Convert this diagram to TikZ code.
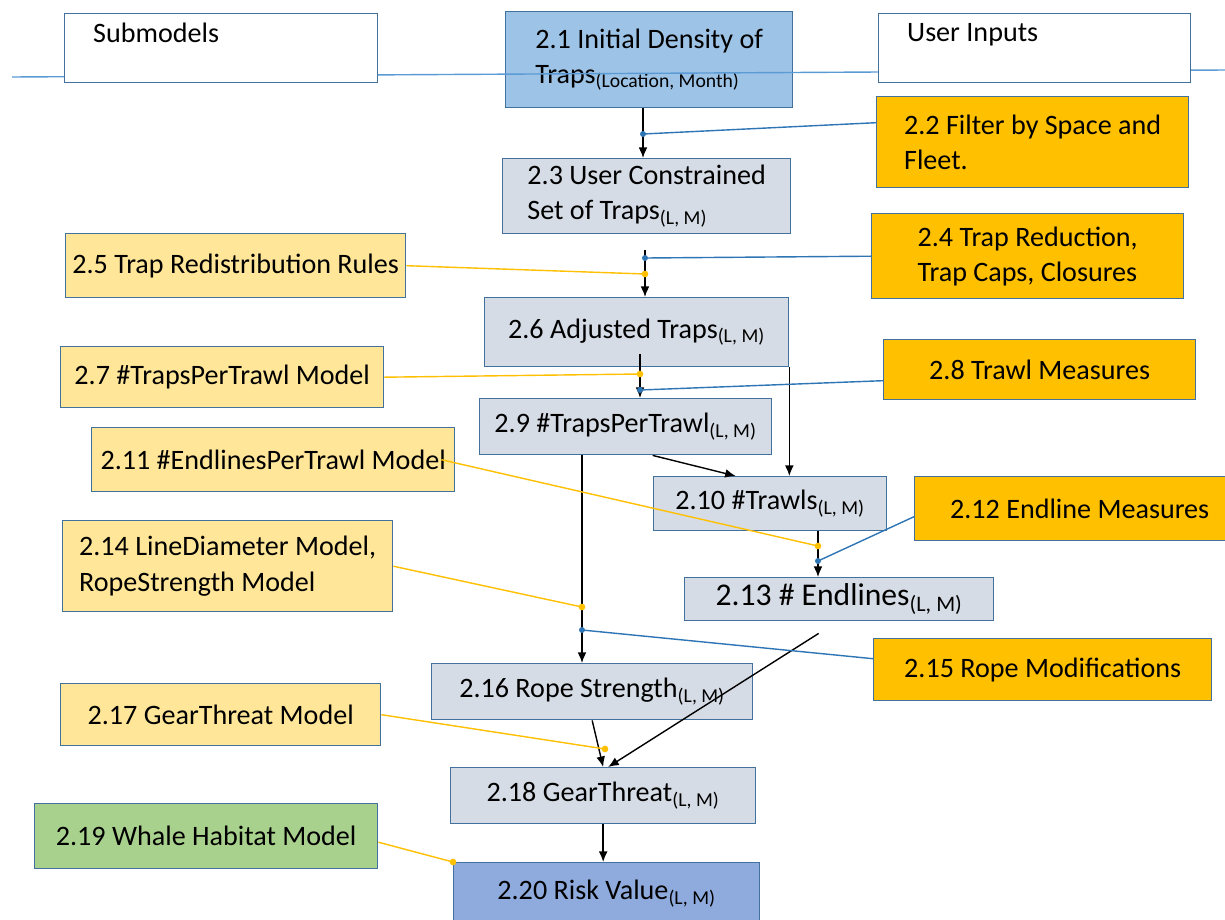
\documentclass[tikz,border=0pt]{standalone}
\usepackage{fontspec}
\setmainfont{Carlito}
\usepackage{xcolor}
\usetikzlibrary{arrows.meta}

\definecolor{edgeblue}{HTML}{41719C}
\definecolor{inputorange}{HTML}{FFC000}
\definecolor{modelyellow}{HTML}{FFE699}
\definecolor{stagegray}{HTML}{D6DCE5}
\definecolor{startblue}{HTML}{9DC3E6}
\definecolor{riskblue}{HTML}{8FAADC}
\definecolor{habitatgreen}{HTML}{A9D18E}
\definecolor{linkblue}{HTML}{2E75B6}
\definecolor{rowblue}{HTML}{5B9BD5}

\begin{document}
\begin{tikzpicture}[x=0.02cm, y=-0.02cm, >={Latex[length=6pt,width=5pt]},
        font=\fontsize{16}{20}\selectfont,
        box/.style={draw=edgeblue, line width=0.8pt, anchor=north west, inner sep=2pt, align=left},
        stage/.style={box, fill=stagegray},
        userinput/.style={box, fill=inputorange},
        submodel/.style={box, fill=modelyellow},
        heading/.style={box, fill=white},
        arr/.style={->, line width=0.8pt},
        ulink/.style={linkblue, line width=0.8pt},
        slink/.style={inputorange, line width=0.8pt}]
        \fill[white] (0,0) rectangle (1225,920);
        \useasboundingbox (0,0) rectangle (1225,920);

        % top row
        \node (n21) [box, fill=startblue, minimum width=5.74cm, minimum height=1.92cm] at (505,11) {2.1 Initial Density of\\Traps\textsubscript{(Location, Month)}};
        \coordinate (hl) at (12,77);
        \coordinate (hr) at (1225,70);
        \draw[rowblue, line width=0.8pt] (hl) -- (hr);
        \node (sub) [heading, minimum width=6.26cm, minimum height=1.38cm,
            label={[anchor=north west, xshift=0.46cm, yshift=-0.08cm]north west:Submodels}] at (64,13) {};
        \node (usr) [heading, minimum width=6.24cm, minimum height=1.38cm,
            label={[anchor=north west, xshift=0.46cm, yshift=-0.08cm]north west:User Inputs}] at (878,13) {};

        % user inputs
        \node (n22) [userinput, minimum width=6.24cm, minimum height=1.82cm] at (876,96) {2.2 Filter by Space and\\Fleet.};
        \node (n24) [userinput, minimum width=6.24cm, minimum height=1.7cm] at (871,213) {2.4 Trap Reduction,\\Trap Caps, Closures};
        \node (n28) [userinput, minimum width=6.24cm, minimum height=1.2cm] at (883,339) {2.8 Trawl Measures};
        \node (n212) [userinput, minimum width=6.6cm, minimum height=1.28cm] at (914,476) {2.12 Endline Measures};
        \node (n215) [userinput, minimum width=6.76cm, minimum height=1.24cm] at (873,638) {2.15 Rope Modifications};

        % submodels
        \node (n25) [submodel, minimum width=6.8cm, minimum height=1.28cm] at (65,233) {2.5 Trap Redistribution Rules};
        \node (n27) [submodel, minimum width=6.46cm, minimum height=1.22cm] at (60,346) {2.7 \#TrapsPerTrawl Model};
        \node (n211) [submodel, minimum width=7.26cm, minimum height=1.28cm] at (91,427) {2.11 \#EndlinesPerTrawl Model};
        \node (n214) [submodel, minimum width=6.6cm, minimum height=1.82cm] at (62,520) {2.14 LineDiameter Model,\\RopeStrength Model};
        \node (n217) [submodel, minimum width=6.4cm, minimum height=1.24cm] at (60,683) {2.17 GearThreat Model};
        \node (n219) [box, fill=habitatgreen, minimum width=6.86cm, minimum height=1.3cm] at (34,803) {2.19 Whale Habitat Model};

        % computed stages
        \node (n23) [stage, minimum width=5.76cm, minimum height=1.5cm] at (502,158) {2.3 User Constrained\\Set of Traps\textsubscript{(L, M)}};
        \node (n26) [stage, minimum width=6.08cm, minimum height=1.38cm] at (484,297) {2.6 Adjusted Traps\textsubscript{(L, M)}};
        \node (n29) [stage, minimum width=5.84cm, minimum height=1.12cm] at (479,398) {2.9 \#TrapsPerTrawl\textsubscript{(L, M)}};
        \node (n210) [stage, minimum width=4.66cm, minimum height=1.08cm] at (653,476) {2.10 \#Trawls\textsubscript{(L, M)}};
        \node (n213) [stage, minimum width=6.18cm, minimum height=0.86cm, font=\fontsize{18}{22}\selectfont] at (684,577) {2.13 \# Endlines\textsubscript{(L, M)}};
        \node (n216) [stage, minimum width=6.42cm, minimum height=1.12cm] at (431,663) {2.16 Rope Strength\textsubscript{(L, M)}};
        \node (n218) [stage, minimum width=6.1cm, minimum height=1.12cm] at (450,767) {2.18 GearThreat\textsubscript{(L, M)}};
        \node (n220) [box, fill=riskblue, minimum width=6.12cm, minimum height=1.24cm] at (453,862) {2.20 Risk Value\textsubscript{(L, M)}};

        % junction points
        \coordinate (d22) at (643,134);
        \coordinate (d24) at (645,258);
        \coordinate (d25) at (645,274);
        \coordinate (d27) at (640,374);
        \coordinate (d28) at (640,390);
        \coordinate (d211) at (818,546);
        \coordinate (d212) at (818,561);
        \coordinate (d214) at (582,607);
        \coordinate (d215) at (582,630);
        \coordinate (d217) at (605,749);
        \coordinate (d219) at (n220.north west);

        % flow
        \draw[arr] (d22 |- n21.south) -- (d22 |- n23.north);
        \draw[arr] ([yshift=0.16cm]d24) -- (d24 |- n26.north);
        \draw[arr] ([yshift=0.4cm]d27) -- (d27 |- n29.north);
        \draw[arr] (n26.south east) -- (n26.south east |- n210.north);
        \draw[arr] ([xshift=0.54cm]n29.south) -- ([xshift=-0.69cm]n210.north);
        \draw[arr] (d211 |- n210.south) -- (d211 |- n213.north);
        \draw[arr] (d214 |- n29.south) -- (d214 |- n216.north);
        \draw[arr] (n216.south) -- (n218.north);
        \draw[arr] ([xshift=-0.41cm, yshift=-0.24cm]n213.south) -- ([xshift=0.1cm]n218.north);
        \draw[arr] (n218.south) -- (n218.south |- n220.north);

        % user input links
        \draw[ulink] ([yshift=0.39cm]n22.west) -- (d22);
        \draw[ulink] (n24.west) -- (d24);
        \draw[ulink] ([yshift=-0.22cm]n28.west) -- (d28);
        \draw[ulink] ([yshift=-0.16cm]n212.west) -- (d212);
        \draw[ulink] ([yshift=0.22cm]n215.west) -- (d215);

        % submodel links
        \draw[slink] (n25.east) -- (d25);
        \draw[slink] (n27.east) -- (d27);
        \draw[slink] ([xshift=-0.28cm]n211.east) -- (d211);
        \draw[slink] (n214.east) -- (d214);
        \draw[slink] (n217.east) -- (d217);
        \draw[slink] ([yshift=-0.12cm]n219.east) -- (d219);

        \foreach \d in {d22, d24, d28, d212, d215}
            \fill[linkblue] (\d) circle (1.7pt);
        \foreach \d in {d25, d27, d211, d214, d217, d219}
            \fill[inputorange] (\d) circle (1.9pt);
    \end{tikzpicture}
\end{document}
